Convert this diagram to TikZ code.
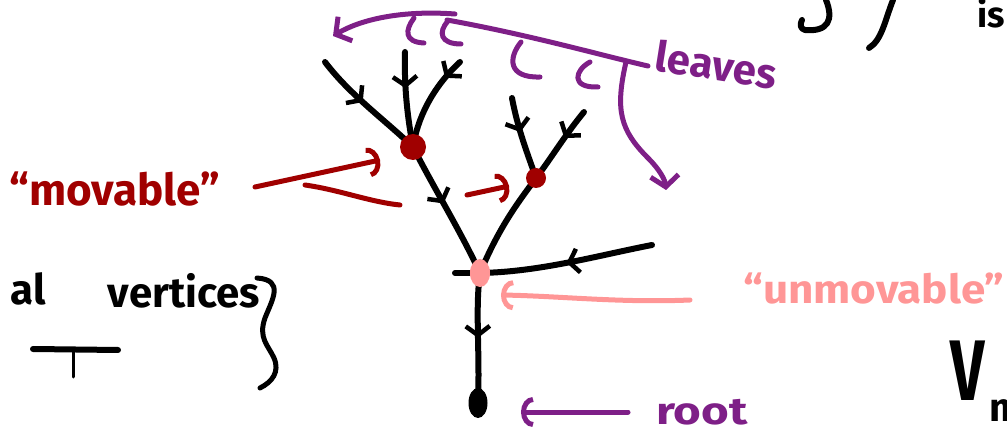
\documentclass[tikz,border=0pt]{standalone}
\usepackage{fontspec}
\setmainfont{Fira Sans}
\usetikzlibrary{arrows.meta,decorations.markings,shapes.geometric}
\pgfdeclarelayer{back}
\pgfsetlayers{back,main}
\definecolor{inkpurple}{RGB}{126,31,135}
\definecolor{inkred}{RGB}{160,0,0}
\definecolor{inkpink}{RGB}{255,150,150}
\tikzset{
  ink/.style={line width=6pt,line cap=round,line join=round},
  branch/.style={ink,black,postaction={decorate},
    decoration={markings,mark=at position #1 with
      {\arrow{Straight Barb[line width=4.5pt,length=9pt,width=24pt]}}}},
  branch/.default=0.5,
  stalk/.style={ink,black},
  vtx/.style={circle,fill=inkred,inner sep=0pt},
  hand/.style={inner sep=0pt,anchor=base},
  pen/.style={ink,line width=5pt},
  hooktip/.style={-{Arc Barb[line width=5pt,length=12pt,width=30pt]}},
  bartip/.style={-{Straight Barb[line width=5pt,length=11pt,width=28pt]}},
  word/.style={font=\bfseries\fontsize{#1}{#1}\selectfont},
}
\begin{document}
\begin{tikzpicture}[x=1pt,y=-1pt]
\useasboundingbox (0,0) rectangle (1007,438);
\clip (0,0) rectangle (1007,438);

% tree vertices
\node[vtx,minimum size=26pt] (n1) at (413,147) {};
\node[vtx,minimum size=20pt] (n2) at (536,178) {};
\node[ellipse,fill=inkpink,inner sep=0pt,minimum width=20pt,minimum height=28pt] (u) at (480,273) {};
\node[ellipse,fill=black,inner sep=0pt,minimum width=19pt,minimum height=30pt] (r) at (478,403) {};

% leaves and free ends
\coordinate (l1) at (325,62);
\coordinate (l2) at (405,52);
\coordinate (l3) at (460,62);
\coordinate (l4) at (512,98);
\coordinate (l5) at (584,112);
\coordinate (l6) at (652,245);
\coordinate (w)  at (455,273);

% edges, all oriented towards the root
\begin{pgfonlayer}{back}
\draw[branch=0.45] (l1) .. controls (350,95) and (385,120) .. (n1.center);
\draw[branch=0.38] (l2) .. controls (404,90) and (408,120) .. (n1.center);
\draw[branch=0.22] (l3) .. controls (435,85) and (418,115) .. (n1.center);
\draw[branch=0.45] (n1.center) .. controls (435,190) and (460,230) .. (u.center);
\draw[stalk] (u.center) .. controls (500,225) and (520,200) .. (n2.center);
\draw[branch=0.42] (l4) .. controls (518,130) and (528,155) .. (n2.center);
\draw[branch=0.4] (l5) .. controls (565,135) and (550,160) .. (n2.center);
\draw[branch=0.5] (l6) .. controls (600,255) and (540,272) .. (u.center);
\draw[stalk] (u.center) -- (w);
\draw[branch=0.5] (u.center) .. controls (475,310) and (480,350) .. (r.center);
\end{pgfonlayer}

% leaves bracket
\coordinate (b0) at (455,14);
\coordinate (b1) at (333,36);
\coordinate (b2) at (447,20);
\coordinate (b3) at (648,66);
\draw[pen,inkpurple,bartip] (b0) .. controls (400,10) and (360,20) .. (b1);
\draw[pen,inkpurple] (b2) .. controls (530,35) and (600,55) .. (b3);
\draw[pen,inkpurple] (414,18) .. controls (405,30) and (404,42) .. (424,43);
\draw[pen,inkpurple] (448,21) .. controls (438,32) and (440,44) .. (461,44);
\draw[pen,inkpurple] (521,42) .. controls (508,58) and (508,78) .. (540,77);
\draw[pen,inkpurple] (590,62) .. controls (575,70) and (570,88) .. (598,87);
\coordinate (d0) at (626,62);
\coordinate (d1) at (666,190);
\draw[pen,inkpurple,bartip] (d0) .. controls (615,110) and (620,130) .. (648,158)
  .. controls (660,170) and (665,180) .. (d1);
\node[hand,text=inkpurple,word=42,rotate=-9] (leaves) at (714,80) {leaves};

% movable label and its arrows
\node[hand,text=inkred,word=44] (movable) at (115,206) {``movable''};
\coordinate (m0) at (255,187);
\coordinate (m1) at (380,160);
\coordinate (m2) at (305,185);
\coordinate (m3) at (400,205);
\coordinate (m4) at (467,195);
\coordinate (m5) at (509,186);
\draw[pen,inkred,hooktip] (m0) -- (m1);
\draw[pen,inkred] (m2) .. controls (340,190) and (370,202) .. (m3);
\draw[pen,inkred,hooktip] (m4) -- (m5);

% unmovable label and its arrow
\node[hand,text=inkpink,word=40] (unmov) at (874,304) {\scalebox{1.1}[1]{``unmovable''}};
\coordinate (p0) at (690,300);
\coordinate (p1) at (501,295);
\draw[pen,inkpink,hooktip] (p0) .. controls (620,303) and (560,296) .. (p1);

% root label and its arrow
\node[hand,text=inkpurple,word=38] (root) at (702,424) {\scalebox{1.25}[1]{root}};
\coordinate (q0) at (628,412);
\coordinate (q1) at (521,412);
\draw[pen,inkpurple,hooktip] (q0) -- (q1);

% fragments of surrounding notes
\node[hand,anchor=base east,word=42] (al) at (46,305) {al};
\node[hand,word=42] (vert) at (184,308) {vertices};
\draw[pen,black] (257,278) .. controls (285,280) and (272,300) .. (265,318)
  .. controls (258,338) and (268,345) .. (274,358)
  .. controls (280,372) and (272,382) .. (260,388);
\draw[ink,black] (33,349) -- (118,350);
\draw[black,line width=3pt,line cap=round] (73,352) -- (73,377);
\draw[ink,black] (826,0) .. controls (834,20) and (828,32) .. (805,30)
  .. controls (800,29) and (800,24) .. (802,20);
\draw[ink,black] (893,0) .. controls (885,20) and (882,40) .. (869,48);
\node[hand,anchor=base west,word=36] (is) at (977,28) {is};
\node[hand,anchor=base west,word=86] (V) at (950,400) {\scalebox{0.7}[1]{V}};
\node[hand,anchor=base west,word=40] (m) at (989,421) {m};
\end{tikzpicture}
\end{document}
